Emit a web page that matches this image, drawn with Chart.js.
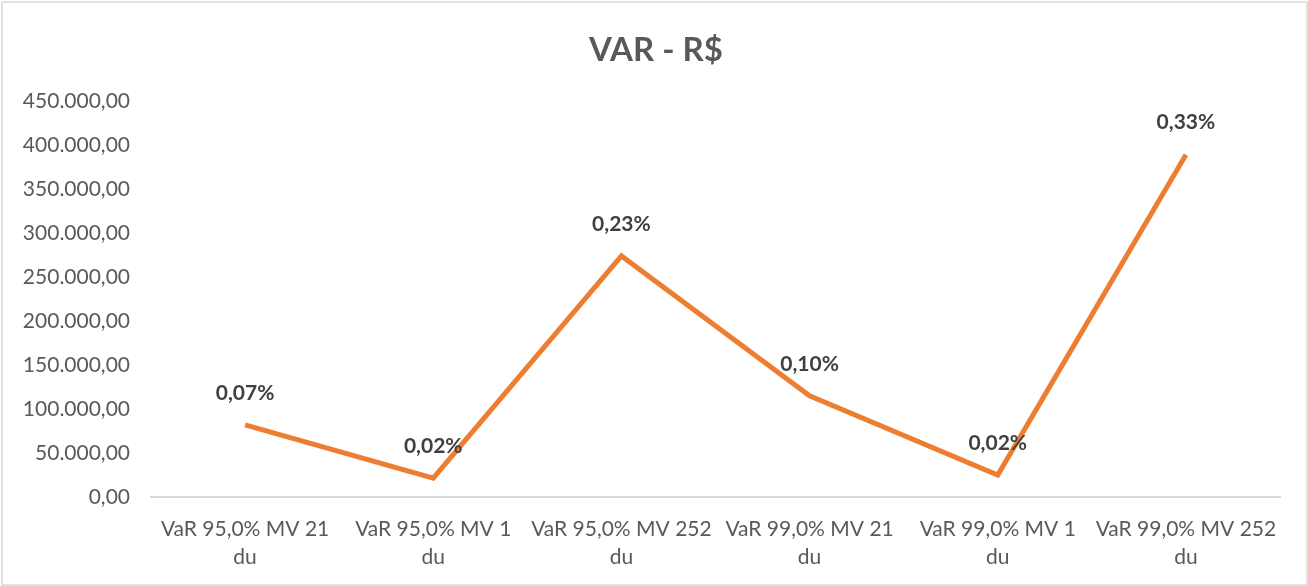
<!DOCTYPE html>
<html>
<head>
<meta charset="utf-8">
<script src="https://cdn.jsdelivr.net/npm/chart.js@4/dist/chart.umd.min.js"></script>
<style>
  html, body { margin: 0; padding: 0; background: #fff; }
  #wrap { position: relative; width: 1308px; height: 586px; }
</style>
</head>
<body>
<div id="wrap"><canvas id="c" width="1308" height="586"></canvas></div>
<script>
const chartTitle = "VAR - R$";
const categories = [
  ["VaR 95,0% MV 21", "du"],
  ["VaR 95,0% MV 1", "du"],
  ["VaR 95,0% MV 252", "du"],
  ["VaR 99,0% MV 21", "du"],
  ["VaR 99,0% MV 1", "du"],
  ["VaR 99,0% MV 252", "du"]
];
const varValues = [82000, 21500, 274000, 115000, 25000, 389000];
const pctLabels = ["0,07%", "0,02%", "0,23%", "0,10%", "0,02%", "0,33%"];
const yMin = 0, yMax = 450000, yStep = 50000;

const FONT = "Lato, 'Open Sans', sans-serif";

function fmtBR(v) {
  const neg = v < 0; v = Math.abs(v);
  const int = Math.floor(v).toString().replace(/\B(?=(\d{3})+(?!\d))/g, ".");
  const dec = Math.round((v - Math.floor(v)) * 100).toString().padStart(2, "0");
  return (neg ? "-" : "") + int + "," + dec;
}

const labelPlugin = {
  id: "pctLabels",
  afterDatasetsDraw(chart) {
    const ctx = chart.ctx;
    const meta = chart.getDatasetMeta(0);
    ctx.save();
    ctx.font = "bold 21px " + FONT;
    ctx.fillStyle = "#404040";
    ctx.textAlign = "center";
    ctx.textBaseline = "middle";
    meta.data.forEach((pt, i) => {
      ctx.fillText(pctLabels[i], pt.x, pt.y - 32);
    });
    ctx.restore();
  }
};

const titleAndFramePlugin = {
  id: "titleFrame",
  afterDraw(chart) {
    const ctx = chart.ctx;
    ctx.save();
    ctx.font = "bold 33px " + FONT;
    ctx.fillStyle = "#595959";
    ctx.textAlign = "center";
    ctx.textBaseline = "middle";
    ctx.fillText(chartTitle, chart.width / 2 + 2, 50);
    ctx.strokeStyle = "#d9d9d9";
    ctx.lineWidth = 1.5;
    ctx.strokeRect(2, 2, chart.width - 3, chart.height - 3);
    ctx.restore();
  }
};

new Chart(document.getElementById("c"), {
  type: "line",
  data: {
    labels: categories,
    datasets: [{
      data: varValues,
      borderColor: "#ED7D31",
      borderWidth: 5,
      pointRadius: 0,
      pointHoverRadius: 0,
      tension: 0,
      fill: false
    }]
  },
  options: {
    responsive: false,
    animation: false,
    events: [],
    layout: { padding: { left: 14, right: 28, top: 101, bottom: 14 } },
    plugins: {
      legend: { display: false },
      tooltip: { enabled: false },
      title: { display: false }
    },
    scales: {
      x: {
        offset: true,
        afterFit(s) { s.height = 75; },
        grid: { display: false, drawTicks: false },
        border: { display: true, color: "#d9d9d9", width: 2 },
        ticks: {
          color: "#595959",
          font: { family: FONT, size: 21, lineHeight: 1.3 },
          padding: 19,
          maxRotation: 0,
          autoSkip: false
        }
      },
      y: {
        min: yMin,
        max: yMax,
        afterFit(s) { s.width = 137; },
        grid: { display: false, drawTicks: false },
        border: { display: false },
        ticks: {
          stepSize: yStep,
          color: "#595959",
          font: { family: FONT, size: 21 },
          padding: 21,
          callback: v => fmtBR(v)
        }
      }
    }
  },
  plugins: [labelPlugin, titleAndFramePlugin]
});
</script>
</body>
</html>
